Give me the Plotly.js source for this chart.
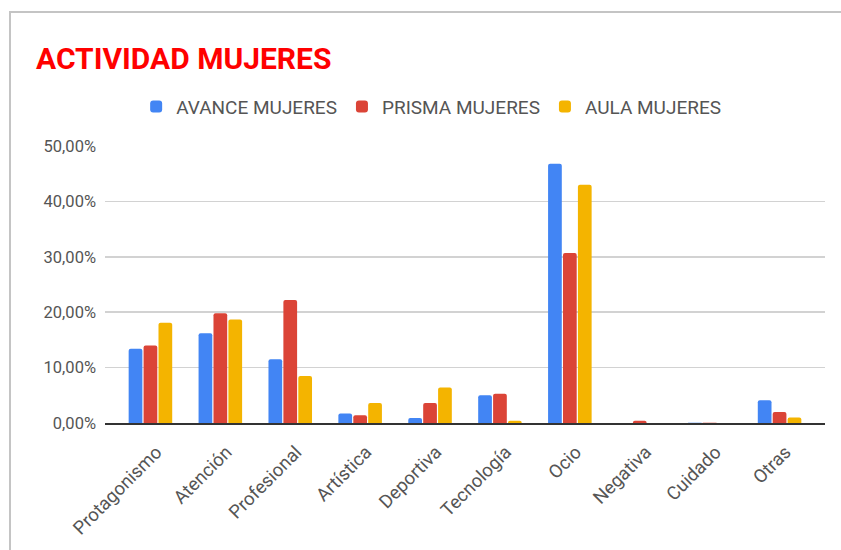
<!DOCTYPE html>
<html>
<head>
<meta charset="utf-8">
<script src="https://cdn.plot.ly/plotly-3.0.1.min.js"></script>
<style>
html,body{margin:0;padding:0;background:#fff;}
#chart{width:841px;height:550px;position:absolute;left:0;top:0;}
#frame{position:absolute;left:9px;top:11px;width:900px;height:600px;border-top:2px solid #c4c4c4;border-left:2px solid #c4c4c4;pointer-events:none;}
</style>
</head>
<body>
<div id="chart"></div>
<div id="frame"></div>
<script>
const categories = ["Protagonismo","Atención","Profesional","Artística","Deportiva","Tecnología","Ocio","Negativa","Cuidado","Otras"];
const seriesNames = ["AVANCE MUJERES","PRISMA MUJERES","AULA MUJERES"];
const avance = [0.134,0.162,0.115,0.017,0.009,0.050,0.468,0.000,0.0005,0.041];
const prisma = [0.140,0.198,0.222,0.014,0.036,0.053,0.307,0.004,0.0005,0.020];
const aula   = [0.181,0.187,0.085,0.036,0.064,0.004,0.430,0.000,0.000,0.010];
const colors = ["#4285F4","#DB4437","#F4B400"];
const yTicks = [0,0.1,0.2,0.3,0.4,0.5];

const allSeries = [avance, prisma, aula];
const traces = allSeries.map((vals,i)=>({
  type:'bar',
  name: seriesNames[i],
  x: categories,
  y: vals,
  marker:{color:colors[i], cornerradius:2},
  hoverinfo:'none'
}));

const layout = {
  width:841, height:550,
  margin:{l:105, r:16, t:146, b:127},
  paper_bgcolor:'#fff', plot_bgcolor:'#fff',
  separators:',.',
  font:{family:'Roboto, Arial, sans-serif', color:'#555', size:16},
  title:{text:'ACTIVIDAD MUJERES', font:{family:'Roboto, Arial, sans-serif', size:30, color:'#ff0000', weight:'bold'},
    xref:'container', yref:'container', x:36/841, xanchor:'left', y:1-58/550, yanchor:'middle'},
  barmode:'group',
  bargap:0.36,
  bargroupgap:0.08,
  showlegend:true,
  legend:{orientation:'h', x:0.453, xanchor:'center', y:1.142, yanchor:'middle',
    font:{size:19, color:'#555'}, itemwidth:30, traceorder:'normal'},
  xaxis:{type:'category', range:[-0.65,9.65], tickangle:-45, showline:true, linecolor:'#333', linewidth:2,
    showgrid:false, ticks:'', tickfont:{size:18.5, color:'#555'}, ticklabelshift:6, ticklabelstandoff:9, fixedrange:true},
  yaxis:{range:[0,0.5], tickvals:yTicks, tickformat:'.2%', showgrid:true, gridcolor:'#d2d2d2', gridwidth:1.5,
    zeroline:false, showline:false, ticks:'', ticklabelstandoff:8, tickfont:{size:16.5, color:'#555'}, fixedrange:true}
};

Plotly.newPlot('chart', traces, layout, {displayModeBar:false, staticPlot:true});
</script>
</body>
</html>
